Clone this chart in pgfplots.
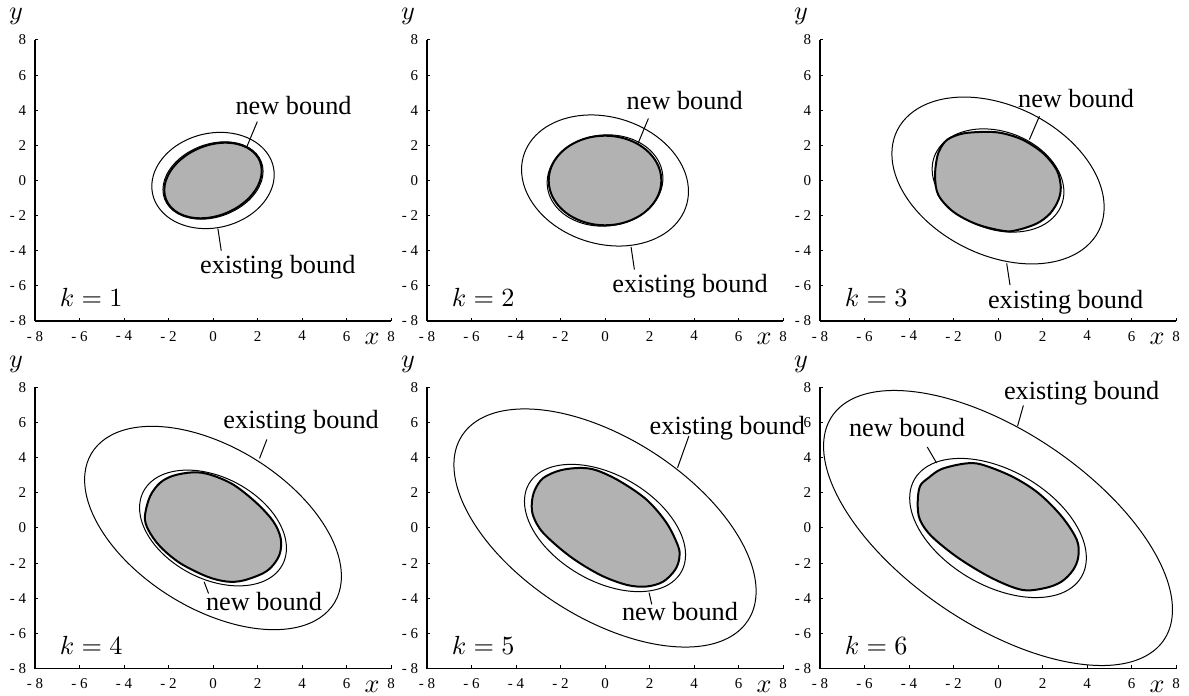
\RequirePackage{fix-cm}
\documentclass[border=0pt]{standalone}
\usepackage{fontspec}
\setmainfont{Liberation Serif}
\usepackage{pgfplots}
\pgfplotsset{compat=1.18}
\definecolor{fillgray}{rgb}{0.70,0.70,0.70}
\pgfplotsset{
  panel/.style={
    scale only axis, width=142.4pt, height=112.4pt,
    xmin=-8,xmax=8,ymin=-8,ymax=8,
    axis lines=left,
    axis line style={-, line width=0.45pt, black},
    xtick={-8,-6,...,8}, ytick={-8,-6,...,8},
    xticklabels={- 8,- 6,- 4,- 2,0,2,4,6,8},
    yticklabels={- 8,- 6,- 4,- 2,0,2,4,6,8},
    tick align=inside, major tick length=1.3pt,
    tick style={line width=0.4pt, black},
    tick label style={font=\fontsize{6}{7}\selectfont},
    xticklabel style={yshift=-0.5pt},
    anchor=south west, clip=false,
  },
  bnd/.style={black, line width=0.4pt, smooth cycle, tension=0.636, mark=none},
  reg/.style={fill=fillgray, draw=black, line width=0.8pt, smooth cycle, tension=0.55, mark=none},
  ptr/.style={black, line width=0.4pt, mark=none},
}
\newcommand{\axlabels}[1]{%
  \node[anchor=base west] at (axis cs:-7.28,-7.2) {$k=#1$};
  \node[anchor=base] at (rel axis cs:0.947,0) [yshift=-9.6pt] {$x$};
  \node[anchor=base] at (rel axis cs:0,1) [xshift=-7.6pt, yshift=8pt] {$y$};
}
\begin{document}
\begin{tikzpicture}[font=\fontsize{10.5}{12.6}\selectfont]
\useasboundingbox (0,0) rectangle (475.6pt,278pt);
% k = 1
\begin{axis}[panel, at={(14pt,149.6pt)}]
\addplot[bnd] coordinates {(2.75,0.33) (2.38,1.646) (1.375,2.52) (0,2.72) (-1.375,2.19) (-2.38,1.074) (-2.75,-0.33) (-2.38,-1.646) (-1.375,-2.52) (0,-2.72) (1.375,-2.19) (2.38,-1.074)};
\addplot[bnd] coordinates {(2.25,0.52) (1.949,1.52) (1.125,2.113) (0,2.14) (-1.125,1.593) (-1.949,0.62) (-2.25,-0.52) (-1.949,-1.52) (-1.125,-2.113) (0,-2.14) (1.125,-1.593) (1.949,-0.62)};
\addplot[reg, tension=0.636] coordinates {(2.19,0.55) (1.897,1.516) (1.095,2.076) (0,2.08) (-1.095,1.526) (-1.897,0.564) (-2.19,-0.55) (-1.897,-1.516) (-1.095,-2.076) (0,-2.08) (1.095,-1.526) (1.897,-0.564)};
\addplot[ptr] coordinates {(1.99,3.35) (1.51,1.89)};
\addplot[ptr] coordinates {(0.37,-4.0) (0.22,-2.74)};
\node[anchor=base] at (axis cs:3.62,3.73) {new bound};
\node[anchor=base] at (axis cs:2.91,-5.32) {existing bound};
\axlabels{1}
\end{axis}
% k = 2
\begin{axis}[panel, at={(170.8pt,149.6pt)}]
\addplot[bnd] coordinates {(3.75,-0.62) (3.248,1.303) (1.875,2.877) (0,3.68) (-1.875,3.497) (-3.248,2.377) (-3.75,0.62) (-3.248,-1.303) (-1.875,-2.877) (0,-3.68) (1.875,-3.497) (3.248,-2.377)};
\addplot[bnd] coordinates {(2.6,0.12) (2.252,1.403) (1.3,2.309) (0,2.597) (-1.3,2.189) (-2.252,1.195) (-2.6,-0.12) (-2.252,-1.403) (-1.3,-2.309) (0,-2.597) (1.3,-2.189) (2.252,-1.195)};
\addplot[reg, tension=0.636] coordinates {(2.53,0) (2.191,1.275) (1.265,2.208) (0,2.55) (-1.265,2.208) (-2.191,1.275) (-2.53,0) (-2.191,-1.275) (-1.265,-2.208) (0,-2.55) (1.265,-2.208) (2.191,-1.275)};
\addplot[ptr] coordinates {(1.95,3.53) (1.47,2.07)};
\addplot[ptr] coordinates {(1.32,-5.07) (1.17,-3.78)};
\node[anchor=base] at (axis cs:3.58,4.02) {new bound};
\node[anchor=base] at (axis cs:3.82,-6.39) {existing bound};
\axlabels{2}
\end{axis}
% k = 3
\begin{axis}[panel, at={(328pt,149.6pt)}]
\addplot[bnd] coordinates {(4.77,-1.52) (4.131,0.934) (2.385,3.137) (0,4.5) (-2.385,4.657) (-4.131,3.566) (-4.77,1.52) (-4.131,-0.934) (-2.385,-3.137) (0,-4.5) (2.385,-4.657) (4.131,-3.566)};
\addplot[bnd] coordinates {(2.96,-0.65) (2.563,0.871) (1.48,2.158) (0,2.867) (-1.48,2.808) (-2.563,1.997) (-2.96,0.65) (-2.563,-0.871) (-1.48,-2.158) (0,-2.867) (1.48,-2.808) (2.563,-1.997)};
\addplot[reg] coordinates {(-2.25,2.35) (-1.56,2.68) (-0.51,2.77) (0.24,2.68) (1.14,2.30) (2.04,1.54) (2.64,0.59) (2.82,-0.36) (2.71,-1.12) (2.34,-1.88) (1.74,-2.45) (0.84,-2.83) (0.24,-2.87) (-0.96,-2.49) (-2.01,-1.78) (-2.68,-0.83) (-2.83,0.21) (-2.75,1.25) (-2.58,1.85)};
\addplot[ptr] coordinates {(1.86,3.66) (1.41,2.33)};
\addplot[ptr] coordinates {(0.54,-5.96) (0.39,-4.72)};
\node[anchor=base] at (axis cs:3.51,4.17) {new bound};
\node[anchor=base] at (axis cs:3.04,-7.28) {existing bound};
\axlabels{3}
\end{axis}
% k = 4
\begin{axis}[panel, at={(14pt,10.6pt)}]
\addplot[bnd] coordinates {(5.77,-2.75) (4.997,0.166) (2.885,3.037) (0,5.095) (-2.885,5.787) (-4.997,4.929) (-5.77,2.75) (-4.997,-0.166) (-2.885,-3.037) (0,-5.095) (2.885,-5.787) (4.997,-4.929)};
\addplot[bnd] coordinates {(3.3,-1.15) (2.858,0.549) (1.65,2.101) (0,3.09) (-1.65,3.251) (-2.858,2.541) (-3.3,1.15) (-2.858,-0.549) (-1.65,-2.101) (0,-3.09) (1.65,-3.251) (2.858,-2.541)};
\addplot[reg] coordinates {(-3.06,0.66) (-2.83,1.80) (-2.38,2.57) (-1.78,2.98) (-0.89,3.17) (-0.135,3.04) (0.91,2.47) (1.96,1.42) (2.71,0.37) (3.04,-0.57) (3.01,-1.43) (2.71,-2.10) (2.26,-2.57) (1.36,-2.99) (0.62,-3.05) (-0.28,-2.76) (-1.48,-2.00) (-2.38,-1.05) (-2.91,-0.10)};
\addplot[ptr] coordinates {(2.42,5.04) (2.09,3.96)};
\addplot[ptr] coordinates {(-0.2,-3.73) (-0.4,-3.06)};
\node[anchor=base] at (axis cs:3.96,5.68) {existing bound};
\node[anchor=base] at (axis cs:2.29,-4.68) {new bound};
\axlabels{4}
\end{axis}
% k = 5
\begin{axis}[panel, at={(170.8pt,10.6pt)}]
\addplot[bnd] coordinates {(6.79,-3.6) (5.88,-0.245) (3.395,3.175) (0,5.745) (-3.395,6.775) (-5.88,5.99) (-6.79,3.6) (-5.88,0.245) (-3.395,-3.175) (0,-5.745) (3.395,-6.775) (5.88,-5.99)};
\addplot[bnd] coordinates {(3.62,-1.52) (3.135,0.329) (1.81,2.089) (0,3.29) (-1.81,3.609) (-3.135,2.961) (-3.62,1.52) (-3.135,-0.329) (-1.81,-2.089) (0,-3.29) (1.81,-3.609) (3.135,-2.961)};
\addplot[reg] coordinates {(-3.29,1.42) (-3.15,2.18) (-2.77,2.85) (-2.02,3.28) (-1.12,3.42) (-0.37,3.28) (0.67,2.66) (1.87,1.61) (2.77,0.28) (3.29,-1.05) (3.34,-1.71) (3.15,-2.38) (2.62,-3.05) (1.87,-3.33) (0.98,-3.24) (-0.22,-2.67) (-1.57,-1.62) (-2.77,-0.29) (-3.22,0.66)};
\addplot[ptr] coordinates {(3.77,5.24) (3.26,3.43)};
\addplot[ptr] coordinates {(2.1,-4.35) (1.98,-3.68)};
\node[anchor=base] at (axis cs:5.5,5.3) {existing bound};
\node[anchor=base] at (axis cs:3.37,-5.29) {new bound};
\axlabels{5}
\end{axis}
% k = 6
\begin{axis}[panel, at={(328pt,10.6pt)}]
\addplot[bnd] coordinates {(7.84,-4.65) (6.789,-0.877) (3.92,3.131) (0,6.30) (-3.92,7.781) (-6.789,7.177) (-7.84,4.65) (-6.789,0.877) (-3.92,-3.131) (0,-6.30) (3.92,-7.781) (6.789,-7.177)};
\addplot[bnd] coordinates {(3.97,-1.7) (3.438,0.318) (1.985,2.25) (0,3.58) (-1.985,3.95) (-3.438,3.262) (-3.97,1.7) (-3.438,-0.318) (-1.985,-2.25) (0,-3.58) (1.985,-3.95) (3.438,-3.262)};
\addplot[reg] coordinates {(-3.61,1.42) (-3.51,2.37) (-3.13,2.85) (-2.53,3.36) (-1.48,3.67) (-0.73,3.61) (0.62,2.94) (1.81,1.99) (2.86,0.66) (3.54,-0.67) (3.61,-1.62) (3.38,-2.38) (2.86,-3.05) (2.11,-3.42) (1.07,-3.52) (-0.28,-2.85) (-1.78,-1.71) (-2.98,-0.48) (-3.51,0.47)};
\addplot[ptr] coordinates {(1.14,6.98) (0.88,5.81)};
\addplot[ptr] coordinates {(-3.18,4.61) (-2.76,3.7)};
\node[anchor=base] at (axis cs:3.76,7.3) {existing bound};
\node[anchor=base] at (axis cs:-4.09,5.21) {new bound};
\axlabels{6}
\end{axis}
\end{tikzpicture}
\end{document}
